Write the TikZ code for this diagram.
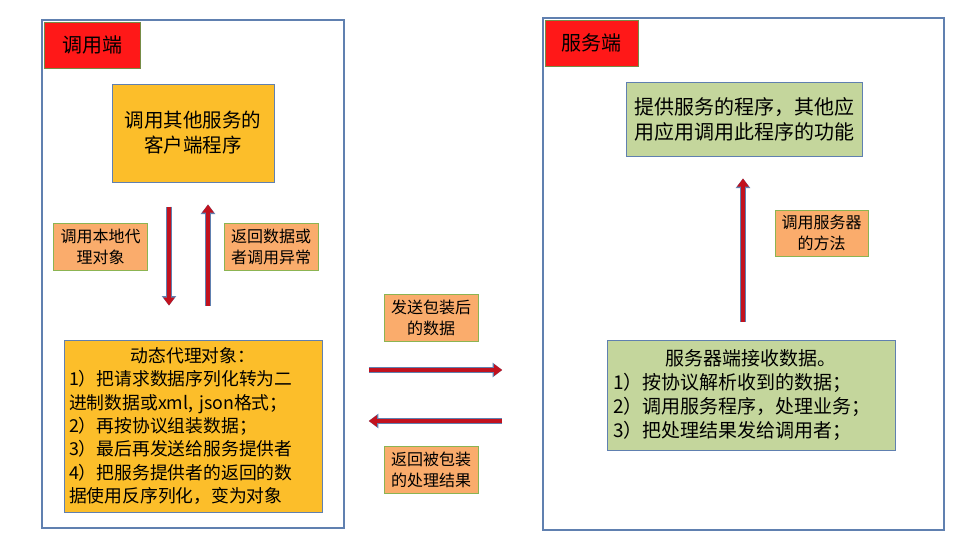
\documentclass[tikz,border=0pt]{standalone}
\usepackage{fontspec}
\usepackage{tikz}
\usetikzlibrary{
	arrows.meta,
	calc,
	positioning
}
\newfontfamily\cjk{Noto Sans CJK SC}
\definecolor{EdgeBlue}{RGB}{96,128,176}
\definecolor{TagRed}{RGB}{255,24,24}
\definecolor{TagEdge}{RGB}{118,140,70}
\definecolor{ProgOrange}{RGB}{252,190,42}
\definecolor{NoteOrange}{RGB}{250,172,108}
\definecolor{NoteEdge}{RGB}{140,180,82}
\definecolor{SrvGreen}{RGB}{196,214,156}
\definecolor{ArrowRed}{RGB}{194,18,30}

\begin{document}
\begin{tikzpicture}[x=1pt, y=-1pt,
		outerbox/.style={draw=EdgeBlue, line width=1.6pt, fill=white, inner sep=0pt},
		tagbox/.style={draw=TagEdge, line width=0.8pt, fill=TagRed, inner sep=0pt,
			font=\cjk\fontsize{20}{22}\selectfont},
		progbox/.style={draw=EdgeBlue, line width=1pt, inner sep=2pt, align=center,
			font=\cjk\fontsize{19.5}{25}\selectfont},
		notebox/.style={draw=NoteEdge, line width=1pt, fill=NoteOrange, inner sep=0pt,
			align=center, minimum width=94, minimum height=47,
			font=\cjk\fontsize{16}{21}\selectfont},
		bigarrow/.style={draw=ArrowRed, line width=4pt, -{Triangle[length=8pt,width=11pt]},
			preaction={draw=EdgeBlue, line width=6pt, -{Triangle[length=9.5pt,width=14pt]}}}
	]
		\useasboundingbox (0,0) rectangle (962,546);
		
		% 调用端
		\node[outerbox, minimum width=302, minimum height=508] (caller) at (193,274) {};
		\node[tagbox, minimum width=96, minimum height=46] (callertag) at (92,45) {调用端};
		\node[progbox, fill=ProgOrange, minimum width=162, minimum height=98] (client) at (193,133)
			{调用其他服务的\\客户端程序};
		\node[progbox, fill=ProgOrange, minimum width=258, minimum height=172,
			text width=248, align=left, font=\cjk\fontsize{17.8}{23.4}\selectfont] (proxy) at (193,426)
			{\hfill 动态代理对象：\hfill\null\\
			 1）把请求数据序列化转为二\\
			 进制数据或xml, json格式；\\
			 2）再按协议组装数据；\\
			 3）最后再发送给服务提供者\\
			 4）把服务提供者的返回的数\\
			 据使用反序列化，变为对象};
		\node[notebox] (localnote) at (100.5,246.5) {调用本地代\\理对象};
		\node[notebox] (returnnote) at (271,246.5) {返回数据或\\者调用异常};
		
		\draw[bigarrow] ([xshift=-24pt, yshift=-24pt]client.south) -- ([xshift=-24pt, yshift=34pt]proxy.north);
		\draw[bigarrow] ([xshift=15pt, yshift=34pt]proxy.north) -- ([xshift=15pt, yshift=-22pt]client.south);
		
		% 服务端
		\node[outerbox, minimum width=401, minimum height=512] (server) at (743.5,274) {};
		\node[tagbox, minimum width=93, minimum height=46] (servertag) at (591.5,43) {服务端};
		\node[progbox, fill=SrvGreen, minimum width=236, minimum height=74,
			font=\cjk\fontsize{20}{25}\selectfont] (provider) at (744,119)
			{提供服务的程序，其他应\\用应用调用此程序的功能};
		\node[progbox, fill=SrvGreen, minimum width=288, minimum height=110,
			text width=276, align=left, font=\cjk\fontsize{19}{24}\selectfont] (receiver) at (751,395)
			{\hfill 服务器端接收数据。\hfill\null\\
			 1）按协议解析收到的数据；\\
			 2）调用服务程序，处理业务；\\
			 3）把处理结果发给调用者；};
		\node[notebox, minimum width=93, minimum height=46] (methodnote) at (821.5,233) {调用服务器\\的方法};
		
		\draw[bigarrow] ([xshift=-8pt, yshift=18pt]receiver.north) -- ([xshift=-1pt, yshift=-22pt]provider.south);
		
		% 中间的传输
		\coordinate (sendfrom) at ($(caller.east) + (24,96)$);
		\coordinate (sendto) at ($(server.west) + (-40,96)$);
		\coordinate (backfrom) at ($(server.west) + (-40,147)$);
		\coordinate (backto) at ($(caller.east) + (24,147)$);
		\node[notebox] (sendnote) at (431,317.5) {发送包装后\\的数据};
		\node[notebox] (backnote) at (431,469.5) {返回被包装\\的处理结果};
		\draw[bigarrow] (sendfrom) -- (sendto);
		\draw[bigarrow] (backfrom) -- (backto);
	\end{tikzpicture}
\end{document}
